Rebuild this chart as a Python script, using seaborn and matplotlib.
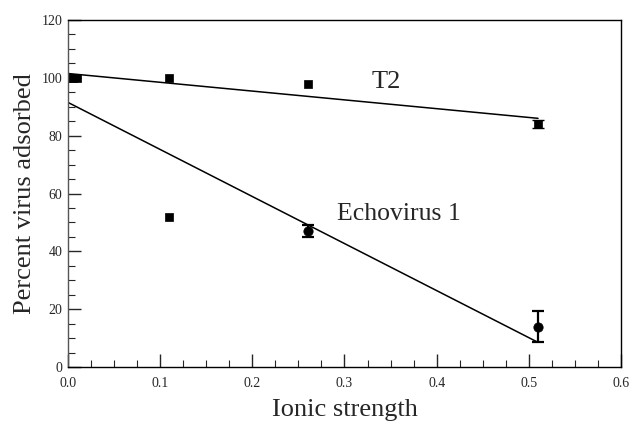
import numpy as np
import pandas as pd
import seaborn as sns
import matplotlib.pyplot as plt
from matplotlib.ticker import MultipleLocator

# T2 phage
t2_x = [0.0, 0.005, 0.01, 0.11, 0.26, 0.51]
t2_y = [100.0, 100.0, 100.0, 100.0, 98.0, 84.0]
t2_err = [0.0, 0.0, 0.0, 0.0, 0.0, 1.5]

# Echovirus 1
echo_sq_x = [0.11]
echo_sq_y = [52.0]
echo_x = [0.26, 0.51]
echo_y = [47.0, 14.0]
echo_err = [2.0, 5.2]

# regression lines (intercept, slope) drawn over 0 .. 0.51
fit_range = [0.0, 0.51]
t2_fit = (101.5, -30.4)
echo_fit = (91.5, -162.7)

sns.set_style("ticks")
plt.rcParams["font.family"] = ["Liberation Serif", "DejaVu Serif"]

fig = plt.figure(figsize=(6.33, 4.23), dpi=100)
ax = fig.add_axes([0.1074, 0.1324, 0.8736, 0.8203])

for b, m in (t2_fit, echo_fit):
    fx = np.array(fit_range)
    sns.lineplot(x=fx, y=b + m * fx, ax=ax, color="black", lw=1.1)

# only draw error bars where there is one
t2 = pd.DataFrame({"x": t2_x, "y": t2_y, "err": t2_err})
t2e = t2[t2["err"] > 0]
ax.errorbar(t2e["x"], t2e["y"], yerr=t2e["err"], fmt="none", ecolor="black",
            capsize=4, lw=1.3)
ax.errorbar(echo_x, echo_y, yerr=echo_err, fmt="none", ecolor="black", capsize=4, lw=1.6,
            capthick=1.6)

sns.scatterplot(data=t2, x="x", y="y", ax=ax, marker="s", s=40, color="black", edgecolor="black")
sns.scatterplot(x=echo_sq_x, y=echo_sq_y, ax=ax, marker="s", s=40, color="black", edgecolor="black")
sns.scatterplot(x=echo_x, y=echo_y, ax=ax, marker="o", s=45, color="black", edgecolor="black")

ax.text(0.345, 98.5, "T2", fontsize=19, ha="center", va="center")
ax.text(0.359, 52.8, "Echovirus 1", fontsize=18.5, ha="center", va="center")

ax.set_xlim(0, 0.6)
ax.set_ylim(0, 120)
ax.xaxis.set_major_locator(MultipleLocator(0.1))
ax.xaxis.set_minor_locator(MultipleLocator(0.025))
ax.yaxis.set_major_locator(MultipleLocator(20))
ax.yaxis.set_minor_locator(MultipleLocator(5))
ax.xaxis.set_major_formatter(plt.FuncFormatter(lambda v, p: f"{v:.1f}"))
ax.tick_params(which="both", direction="in", top=False, right=False, labelsize=10)
ax.tick_params(which="major", length=9.5, width=1)
ax.tick_params(which="minor", length=5, width=0.8)
ax.tick_params(axis="x", pad=7)
ax.tick_params(axis="y", pad=4)
for sp in ax.spines.values():
    sp.set_linewidth(1)
    sp.set_color("black")
ax.spines["left"].set_color("#555555")

ax.set_xlabel("Ionic strength", fontsize=19, labelpad=7)
ax.set_ylabel("Percent virus adsorbed", fontsize=19, labelpad=4)

fig.savefig("out.png", dpi=100)
